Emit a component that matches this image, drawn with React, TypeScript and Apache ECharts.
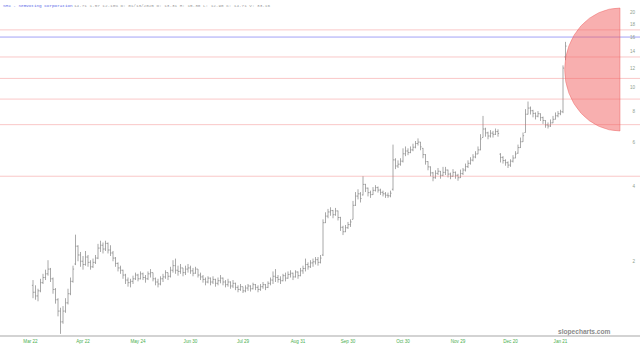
import React, { useEffect, useRef } from "react";
import * as echarts from "echarts";

const titleName = "SMX - Semvoting Corporation";
const quoteText = "14.71 1.57 12.10% D: 01/13/2025 O: 13.31 H: 15.30 L: 12.90 C: 14.71 V: 33.16";
const watermark = "slopecharts.com";

const xTickIndex = [-1, 20, 42, 63, 84, 106, 126, 148, 170, 191, 211];
const xTickLabels = ["Mar 22", "Apr 22", "May 24", "Jun 30", "Jul 29", "Aug 31", "Sep 30", "Oct 30", "Nov 29", "Dec 20", "Jan 21"];

const yTickValues = [2, 4, 6, 8, 10, 12, 14, 16, 18, 20];
const redLevels = [17.1, 13.3, 10.9, 9.0, 7.1, 4.4];
const blueLevels = [16.0];

// [open, high, low, close]
const bars: number[][] = [
  [1.60,1.68,1.42,1.50],[1.50,1.60,1.40,1.45],[1.45,1.55,1.38,1.52],[1.52,1.70,1.50,1.64],[1.64,1.78,1.62,1.72],
  [1.72,1.85,1.68,1.78],[1.78,2.02,1.75,1.86],[1.86,1.88,1.65,1.70],[1.70,1.72,1.48,1.54],[1.54,1.56,1.35,1.40],
  [1.40,1.42,1.20,1.26],[1.26,1.30,1.02,1.14],[1.14,1.32,1.12,1.26],[1.26,1.42,1.24,1.36],[1.36,1.55,1.34,1.48],
  [1.48,1.72,1.46,1.66],[1.66,1.92,1.64,1.86],[1.95,2.56,1.93,2.30],[2.30,2.32,2.00,2.12],[2.12,2.18,1.90,2.00],
  [2.00,2.10,1.85,1.94],[1.94,2.20,1.92,2.08],[2.08,2.12,1.90,1.98],[1.98,2.02,1.85,1.90],[1.90,2.05,1.88,1.98],
  [1.98,2.12,1.95,2.06],[2.06,2.35,2.04,2.26],[2.26,2.42,2.18,2.32],[2.32,2.38,2.15,2.24],[2.24,2.42,2.20,2.36],
  [2.36,2.38,2.15,2.22],[2.22,2.32,2.10,2.16],[2.16,2.20,2.00,2.06],[2.06,2.08,1.90,1.96],[1.96,1.98,1.82,1.88],
  [1.88,1.92,1.78,1.84],[1.84,1.85,1.70,1.76],[1.76,1.78,1.62,1.68],[1.68,1.72,1.58,1.64],[1.64,1.70,1.57,1.66],
  [1.66,1.75,1.62,1.70],[1.70,1.80,1.68,1.76],[1.76,1.78,1.66,1.70],[1.70,1.82,1.69,1.78],[1.78,1.80,1.68,1.72],
  [1.72,1.76,1.64,1.70],[1.70,1.82,1.68,1.78],[1.78,1.86,1.72,1.80],[1.80,1.80,1.66,1.70],[1.70,1.72,1.60,1.65],
  [1.65,1.70,1.57,1.62],[1.62,1.74,1.60,1.70],[1.70,1.78,1.65,1.73],[1.73,1.84,1.70,1.80],[1.80,1.80,1.68,1.74],
  [1.74,1.90,1.72,1.84],[1.84,2.02,1.80,1.92],[1.92,2.05,1.78,1.84],[1.84,1.92,1.75,1.82],[1.82,1.95,1.78,1.88],
  [1.88,1.88,1.74,1.80],[1.80,1.92,1.76,1.86],[1.86,1.95,1.80,1.88],[1.88,1.92,1.78,1.83],[1.83,1.88,1.74,1.79],
  [1.79,1.90,1.78,1.86],[1.86,1.86,1.72,1.76],[1.76,1.80,1.68,1.73],[1.73,1.76,1.64,1.69],[1.69,1.72,1.60,1.65],
  [1.65,1.74,1.63,1.71],[1.71,1.72,1.60,1.65],[1.65,1.74,1.62,1.69],[1.69,1.70,1.58,1.63],[1.63,1.72,1.60,1.67],
  [1.67,1.76,1.63,1.71],[1.71,1.72,1.60,1.65],[1.65,1.68,1.57,1.61],[1.61,1.70,1.58,1.65],[1.65,1.66,1.55,1.59],
  [1.59,1.68,1.56,1.63],[1.63,1.64,1.53,1.57],[1.57,1.60,1.50,1.54],[1.54,1.62,1.52,1.58],[1.58,1.58,1.49,1.52],
  [1.52,1.60,1.50,1.56],[1.56,1.62,1.52,1.59],[1.59,1.60,1.51,1.55],[1.55,1.64,1.54,1.61],[1.61,1.62,1.53,1.57],
  [1.57,1.60,1.50,1.54],[1.54,1.62,1.52,1.58],[1.58,1.65,1.55,1.61],[1.61,1.62,1.53,1.57],[1.57,1.66,1.56,1.63],
  [1.63,1.72,1.60,1.68],[1.68,1.82,1.62,1.74],[1.74,1.86,1.65,1.72],[1.72,1.76,1.64,1.69],[1.69,1.74,1.62,1.67],
  [1.67,1.78,1.66,1.75],[1.75,1.80,1.66,1.71],[1.71,1.82,1.70,1.77],[1.77,1.84,1.72,1.79],[1.79,1.80,1.68,1.73],
  [1.73,1.84,1.72,1.81],[1.81,1.82,1.70,1.75],[1.75,1.88,1.74,1.83],[1.83,1.92,1.78,1.87],[1.87,2.05,1.82,1.94],
  [1.94,1.98,1.85,1.90],[1.90,2.02,1.88,1.97],[1.97,2.05,1.90,1.99],[1.99,2.08,1.94,2.03],[2.03,2.08,1.92,1.98],
  [1.98,2.12,1.96,2.06],[2.12,2.95,2.10,2.86],[2.86,3.15,2.85,3.04],[3.04,3.25,2.98,3.16],[3.16,3.30,3.05,3.20],
  [3.20,3.22,2.98,3.08],[3.08,3.28,3.05,3.19],[3.19,3.20,2.92,3.00],[3.00,3.02,2.65,2.74],[2.74,2.78,2.55,2.63],
  [2.63,2.80,2.62,2.73],[2.73,2.88,2.70,2.81],[2.81,2.95,2.75,2.88],[2.95,3.50,2.95,3.36],[3.36,3.80,3.34,3.66],
  [3.66,3.90,3.55,3.74],[3.74,3.80,3.45,3.58],[3.70,4.40,3.68,4.08],[4.08,4.10,3.80,3.94],[3.94,3.96,3.65,3.78],
  [3.78,3.85,3.60,3.71],[3.71,3.98,3.70,3.86],[3.86,4.05,3.82,3.96],[3.96,4.00,3.78,3.87],[3.87,3.92,3.70,3.79],
  [3.79,3.85,3.65,3.74],[3.74,3.80,3.60,3.69],[3.69,3.78,3.60,3.67],[3.67,3.85,3.62,3.76],[3.90,5.90,3.85,5.12],
  [5.12,5.20,4.70,4.84],[4.84,5.10,4.75,4.92],[4.92,5.20,4.85,5.06],[5.06,5.70,5.00,5.42],[5.42,5.80,5.30,5.56],
  [5.56,5.70,5.35,5.48],[5.48,5.80,5.45,5.62],[5.62,5.95,5.55,5.76],[5.76,6.10,5.70,5.96],[5.96,6.25,5.85,6.04],
  [6.04,6.05,5.60,5.78],[5.70,5.72,5.20,5.38],[5.38,5.40,4.90,5.04],[5.04,5.06,4.65,4.80],[4.80,4.82,4.40,4.54],
  [4.54,4.58,4.20,4.34],[4.34,4.65,4.30,4.52],[4.52,4.75,4.45,4.61],[4.61,4.62,4.30,4.44],[4.44,4.80,4.40,4.56],
  [4.56,4.80,4.45,4.66],[4.66,4.68,4.35,4.49],[4.49,4.55,4.28,4.40],[4.40,4.70,4.38,4.56],[4.56,4.60,4.30,4.44],
  [4.44,4.50,4.22,4.34],[4.34,4.68,4.33,4.51],[4.51,4.75,4.45,4.66],[4.66,4.95,4.60,4.81],[4.81,5.10,4.75,4.96],
  [4.96,5.25,4.90,5.11],[5.11,5.40,5.05,5.26],[5.26,5.55,5.20,5.41],[5.41,5.80,5.40,5.62],[5.62,6.50,5.60,6.22],
  [6.30,7.70,6.30,6.82],[6.82,6.90,6.35,6.58],[6.58,6.65,6.20,6.39],[6.39,6.75,6.30,6.56],[6.56,6.70,6.30,6.49],
  [6.49,6.85,6.45,6.66],[6.66,6.80,6.35,6.54],[5.40,5.45,5.00,5.24],[5.24,5.30,4.95,5.09],[5.09,5.15,4.85,4.99],
  [4.99,5.05,4.75,4.88],[4.88,5.15,4.80,5.06],[5.06,5.35,5.00,5.21],[5.21,5.55,5.20,5.41],[5.45,5.90,5.42,5.74],
  [5.74,6.30,5.72,6.06],[6.06,6.60,6.05,6.41],[6.60,8.20,6.60,7.82],[7.82,8.80,7.80,8.28],[8.28,8.40,7.80,8.08],
  [8.08,8.15,7.60,7.88],[7.88,7.95,7.45,7.68],[7.68,8.05,7.60,7.86],[7.86,7.88,7.35,7.58],[7.58,7.65,7.15,7.38],
  [7.38,7.40,6.90,7.08],[7.08,7.25,6.85,7.01],[7.01,7.45,6.95,7.22],[7.22,7.70,7.20,7.46],[7.46,7.95,7.45,7.71],
  [7.71,8.05,7.60,7.86],[7.86,8.15,7.75,8.00],[8.00,12.30,7.90,12.00],[13.31,15.30,12.90,14.71]
];

function renderItem(_params: any, api: any) {
  const i = api.value(0);
  const o = api.coord([i, api.value(1)]);
  const h = api.coord([i, api.value(2)]);
  const l = api.coord([i, api.value(3)]);
  const c = api.coord([i, api.value(4)]);
  const x = o[0];
  const style = { stroke: "#8c8c8c", lineWidth: 0.75 };
  return {
    type: "group",
    children: [
      { type: "line", shape: { x1: x, y1: h[1], x2: x, y2: l[1] }, style },
      { type: "line", shape: { x1: x - 1.1, y1: o[1], x2: x, y2: o[1] }, style },
      { type: "line", shape: { x1: x, y1: c[1], x2: x + 1.1, y2: c[1] }, style },
    ],
  };
}

export default function App() {
  const ref = useRef<HTMLDivElement>(null);
  useEffect(() => {
    document.body.style.margin = "0";
    const chart = echarts.init(ref.current!, null, { renderer: "svg" });
    const data = bars.map((b, i) => [i, b[0], b[1], b[2], b[3]]);
    const mono = "'Liberation Mono', 'DejaVu Sans Mono', monospace";
    const baseGraphics: any[] = [
      {
        type: "sector",
        x: 620,
        y: 69.5,
        scaleX: 0.9,
        shape: { cx: 0, cy: 0, r: 61.5, r0: 0, startAngle: Math.PI / 2, endAngle: Math.PI * 1.5, clockwise: true },
        style: { fill: "rgba(242,96,96,0.5)", stroke: "rgba(235,90,90,0.55)", lineWidth: 0.8 },
        z: 10,
      },
      {
        type: "text",
        x: 3,
        y: 5,
        style: { text: titleName, fill: "#5866e8", fontSize: 4.3, fontFamily: mono, verticalAlign: "middle" },
      },
      {
        type: "text",
        x: 74,
        y: 5,
        style: { text: quoteText, fill: "#9a9a9a", fontSize: 4.3, fontFamily: mono, verticalAlign: "middle" },
      },
      {
        type: "text",
        x: 558,
        y: 331,
        style: { text: watermark, fill: "#8a8a8a", fontSize: 6.6, fontWeight: "bold", fontFamily: "'Liberation Sans', Arial, sans-serif", verticalAlign: "middle" },
      },
    ];
    chart.setOption({
      animation: false,
      backgroundColor: "#ffffff",
      grid: { left: 0, right: 0, top: 0, bottom: 12 },
      xAxis: {
        type: "value",
        min: -13.2,
        max: 242.8,
        axisLine: { show: true, onZero: false, lineStyle: { color: "#c4c4c4", width: 1.5 } },
        axisTick: { show: false },
        splitLine: { show: false },
        axisLabel: {
          customValues: xTickIndex,
          formatter: (v: number) => {
            const k = xTickIndex.indexOf(Math.round(v));
            return k >= 0 ? xTickLabels[k] : "";
          },
          color: "#4caf50",
          fontSize: 4.6,
          margin: 3,
          fontFamily: "'Liberation Sans', Arial, sans-serif",
        },
      },
      yAxis: {
        type: "log",
        logBase: 10,
        min: 1,
        max: 22.56,
        position: "right",
        axisLine: { show: false },
        axisTick: { show: false },
        splitLine: { show: false },
        axisLabel: { show: false },
      },
      series: [
        {
          type: "custom",
          renderItem,
          data,
          encode: { x: 0, y: [1, 2, 3, 4] },
          silent: true,
          z: 3,
        },
      ],
      graphic: baseGraphics,
    });
    const toY = (v: number) => chart.convertToPixel({ yAxisIndex: 0 } as any, v) as number;
    const yLabels = yTickValues.map((v) => ({
      type: "text",
      x: 635,
      y: toY(v),
      style: {
        text: String(v),
        fill: "#8fa08f",
        fontSize: 4.6,
        fontFamily: "'Liberation Sans', Arial, sans-serif",
        align: "right",
        verticalAlign: "middle",
      },
      z: 20,
    }));
    const levelLine = (v: number, stroke: string) => {
      const y = toY(v);
      return { type: "line", silent: true, shape: { x1: 0, y1: y, x2: 640, y2: y }, style: { stroke, lineWidth: 0.8 }, z: 5 };
    };
    const redLines = redLevels.map((v) => levelLine(v, "rgba(240,100,100,0.45)"));
    const blueLines = blueLevels.map((v) => levelLine(v, "#8a8af3"));
    chart.setOption({ graphic: [...baseGraphics, ...yLabels, ...redLines, ...blueLines] });
    return () => chart.dispose();
  }, []);
  return <div ref={ref} style={{ position: "absolute", left: 0, top: 0, width: 640, height: 348 }} />;
}
